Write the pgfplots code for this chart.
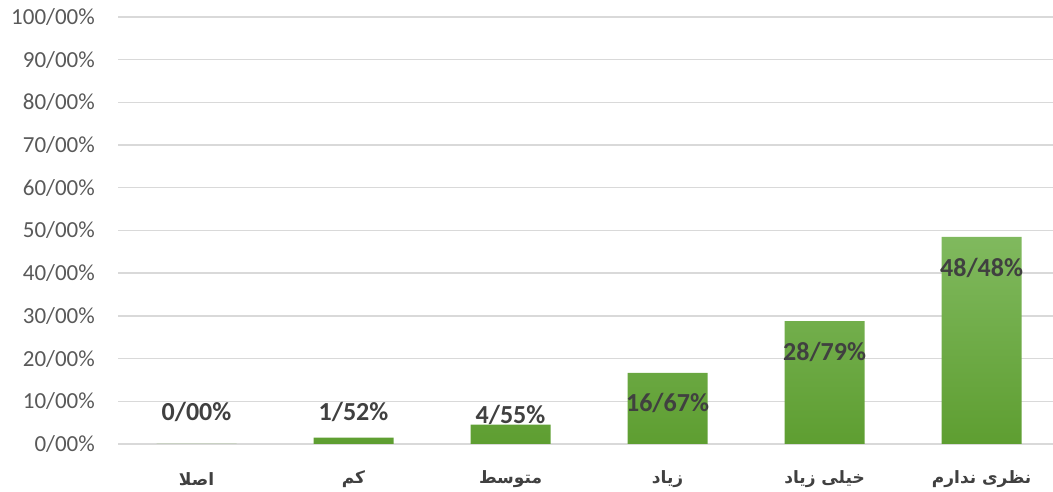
\documentclass[border=0pt]{standalone}
\usepackage{fontspec}
\setmainfont{Carlito}
\newfontfamily\arabicfont[Script=Arabic]{DejaVu Sans}
\TeXXeTstate=1
\usepackage{pgfplots}
\pgfplotsset{compat=1.18}
\definecolor{tickgray}{HTML}{595959}
\definecolor{gridgray}{HTML}{D9D9D9}
\definecolor{labelgray}{HTML}{404040}
\definecolor{barTop}{HTML}{80B95E}
\definecolor{barBottom}{HTML}{5E9E31}
\begin{document}
\begin{tikzpicture}[x=1bp,y=1bp]
\useasboundingbox (0,0) rectangle (1053,492);
\begin{axis}[
  at={(118bp,48bp)}, anchor=south west,
  scale only axis, width=935bp, height=427bp,
  xmin=-0.5, xmax=5.455, ymin=0, ymax=100,
  clip=false,
  axis line style={draw=none},
  major tick length=0pt,
  ytick={0,10,...,100},
  yticklabels={0/00\%,10/00\%,20/00\%,30/00\%,40/00\%,50/00\%,60/00\%,70/00\%,80/00\%,90/00\%,100/00\%},
  /pgf/number format/assume math mode=true,
  yticklabel style={font=\fontsize{23bp}{23bp}\selectfont, text=tickgray, anchor=east, inner sep=0pt, xshift=-23bp},
  ymajorgrids, grid style={draw=gridgray, line width=1.4bp},
  xtick={0,1,2,3,4,5},
  xticklabels={{\beginR اصلا\endR},{\beginR کم\endR},{\beginR متوسط\endR},{\beginR زیاد\endR},{\beginR خیلی زیاد\endR},{\beginR نظری ندارم\endR}},
  xticklabel style={font=\arabicfont\bfseries\fontsize{17bp}{17bp}\selectfont, text=labelgray, anchor=center, inner sep=0pt, yshift=-35bp},
]
\addplot[ybar, bar width=80bp, bar shift=0pt, draw=none, top color=barTop, bottom color=barBottom]
  coordinates {(0,0) (1,1.52) (2,4.55) (3,16.67) (4,28.79) (5,48.48)};
\addplot[only marks, mark=none, nodes near coords, point meta=explicit symbolic,
  every node near coord/.append style={anchor=center, inner sep=0pt, font=\bfseries\fontsize{26bp}{26bp}\selectfont, text=labelgray}]
  coordinates {(0,7.5) [0/00\%] (1,7.5) [1/52\%] (2,6.8) [4/55\%] (3,9.5) [16/67\%] (4,21.6) [28/79\%] (5,41.3) [48/48\%]};
\end{axis}
\end{tikzpicture}
\end{document}
